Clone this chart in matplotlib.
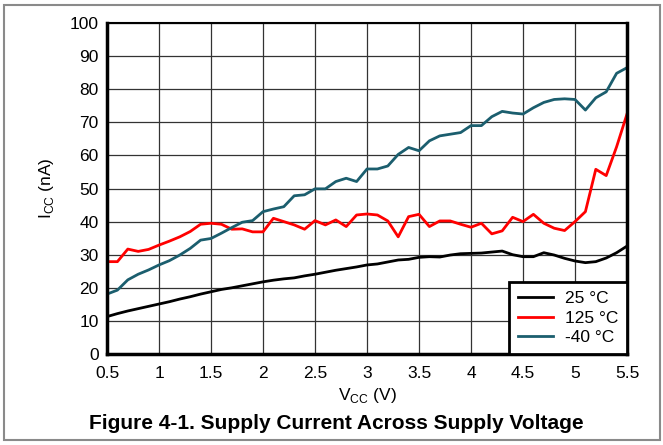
import numpy as np
import matplotlib
matplotlib.use("Agg")
import matplotlib.pyplot as plt
from matplotlib.patches import Rectangle

plt.rcParams["font.family"] = ["Liberation Sans", "DejaVu Sans"]

# supply voltage (V), one sample every 0.1 V
vcc = [0.5, 0.6, 0.7, 0.8, 0.9, 1.0, 1.1, 1.2, 1.3, 1.4,
       1.5, 1.6, 1.7, 1.8, 1.9, 2.0, 2.1, 2.2, 2.3, 2.4,
       2.5, 2.6, 2.7, 2.8, 2.9, 3.0, 3.1, 3.2, 3.3, 3.4,
       3.5, 3.6, 3.7, 3.8, 3.9, 4.0, 4.1, 4.2, 4.3, 4.4,
       4.5, 4.6, 4.7, 4.8, 4.9, 5.0, 5.1, 5.2, 5.3, 5.4, 5.5]

icc_25 = [11.3, 12.2, 13.0, 13.7, 14.4, 15.1, 15.8, 16.6, 17.3, 18.1,
          18.8, 19.5, 20.0, 20.6, 21.2, 21.8, 22.3, 22.7, 23.0, 23.6,
          24.1, 24.7, 25.3, 25.8, 26.3, 26.9, 27.2, 27.8, 28.4, 28.6,
          29.2, 29.4, 29.3, 29.9, 30.3, 30.4, 30.5, 30.8, 31.1, 30.0,
          29.4, 29.4, 30.6, 29.9, 28.9, 28.1, 27.6, 27.9, 29.0, 30.6, 32.6]

icc_125 = [27.9, 27.9, 31.7, 31.0, 31.6, 32.9, 34.1, 35.4, 37.0, 39.2,
           39.5, 39.2, 37.7, 37.8, 36.9, 36.9, 41.0, 40.0, 39.0, 37.7,
           40.3, 39.0, 40.5, 38.5, 42.0, 42.3, 42.0, 40.2, 35.4, 41.5,
           42.2, 38.5, 40.2, 40.2, 39.2, 38.3, 39.5, 36.3, 37.2, 41.3,
           40.0, 42.2, 39.5, 38.0, 37.3, 40.0, 43.0, 55.8, 53.9, 62.6, 72.5]

icc_m40 = [18.1, 19.3, 22.4, 24.1, 25.4, 26.9, 28.2, 29.9, 31.9, 34.4,
           34.9, 36.5, 38.2, 39.8, 40.3, 43.0, 43.8, 44.5, 47.8, 48.1,
           49.9, 49.9, 52.1, 53.1, 52.1, 55.9, 55.9, 56.8, 60.3, 62.4,
           61.4, 64.4, 65.9, 66.4, 66.9, 69.0, 69.0, 71.7, 73.3, 72.8,
           72.5, 74.4, 76.0, 76.9, 77.1, 76.9, 73.7, 77.4, 79.2, 84.8, 86.5]

x_ticks = [0.5, 1, 1.5, 2, 2.5, 3, 3.5, 4, 4.5, 5, 5.5]
x_labels = ["0.5", "1", "1.5", "2", "2.5", "3", "3.5", "4", "4.5", "5", "5.5"]
y_ticks = list(range(0, 101, 10))

fig = plt.figure(figsize=(6.63, 4.45), dpi=100)
ax = fig.add_axes([0.1614, 0.2045, 0.7843, 0.7438])

ax.plot(vcc, icc_25, c="black", lw=2, label="25 °C")
ax.plot(vcc, icc_125, c="#ff0000", lw=2, label="125 °C")
ax.plot(vcc, icc_m40, c="#1b5e6e", lw=2, label="-40 °C")

ax.set_xlim(0.5, 5.5)
ax.set_ylim(0, 100)
ax.set_xticks(x_ticks)
ax.set_xticklabels(x_labels)
ax.set_yticks(y_ticks)
ax.tick_params(length=0, labelsize=12.5)
ax.tick_params(axis="x", pad=9)
ax.tick_params(axis="y", pad=6)
ax.grid(True, color="#333333", lw=0.9)
ax.set_axisbelow(True)

for side in ["left", "right", "bottom"]:
    ax.spines[side].set_linewidth(2.5)
ax.spines["top"].set_linewidth(1.5)

ax.set_xlabel("V$_{\\mathregular{CC}}$ (V)", fontsize=12.5, labelpad=3)
ax.set_ylabel("I$_{\\mathregular{CC}}$ (nA)", fontsize=12.5, labelpad=10)

leg = ax.legend(loc="lower right", fontsize=12.5, fancybox=False,
                framealpha=1, borderaxespad=0, handlelength=2.0,
                labelspacing=0.25, borderpad=0.5, handletextpad=0.7)
leg.get_frame().set_edgecolor("black")
leg.get_frame().set_linewidth(2)

fig.text(0.508, 0.049, "Figure 4-1. Supply Current Across Supply Voltage",
         ha="center", va="center", fontsize=15, fontweight="bold")

# thin gray frame round the whole figure
fig.patches.append(Rectangle((0.006, 0.011), 0.99, 0.978, transform=fig.transFigure,
                             fill=False, edgecolor="#8a8a8a", lw=1.5))

fig.savefig("out.png", dpi=100)
